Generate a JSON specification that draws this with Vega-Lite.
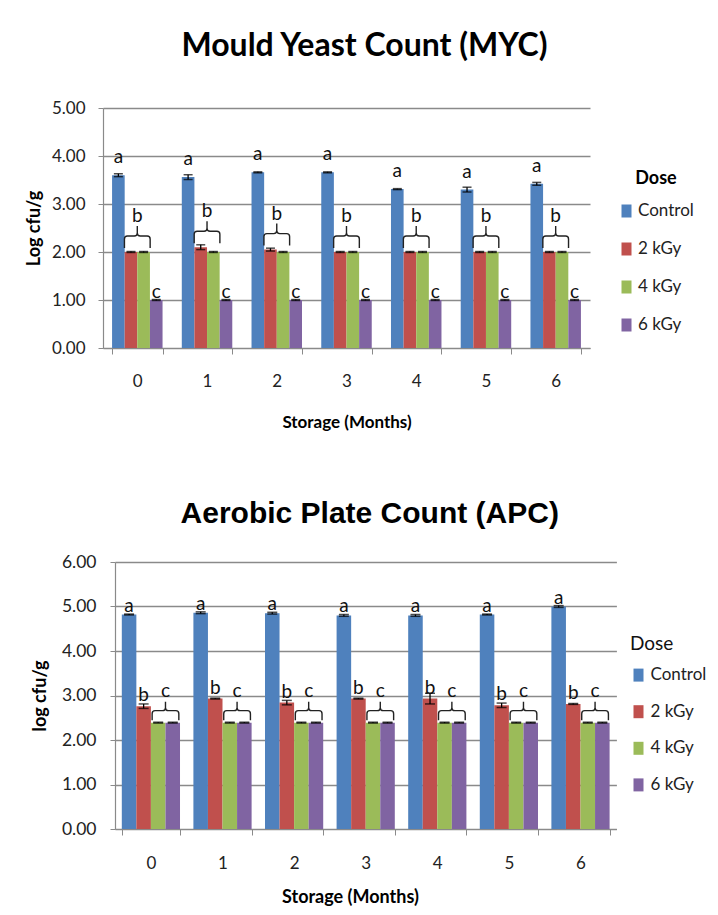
{
  "$schema": "https://vega.github.io/schema/vega-lite/v6.json",
  "padding": {"left": 25, "top": 30, "right": 0, "bottom": 0},
  "spacing": 69,
  "datasets": {
    "myc": [
      {"month": 0, "dose": "Control", "value": 3.60, "err": 0.03, "letter": "a"},
      {"month": 0, "dose": "2 kGy", "value": 2.00, "err": 0.01, "letter": "b"},
      {"month": 0, "dose": "4 kGy", "value": 2.00, "err": 0.01, "letter": ""},
      {"month": 0, "dose": "6 kGy", "value": 1.00, "err": 0.01, "letter": "c"},
      {"month": 1, "dose": "Control", "value": 3.56, "err": 0.05, "letter": "a"},
      {"month": 1, "dose": "2 kGy", "value": 2.10, "err": 0.05, "letter": "b"},
      {"month": 1, "dose": "4 kGy", "value": 2.00, "err": 0.01, "letter": ""},
      {"month": 1, "dose": "6 kGy", "value": 1.00, "err": 0.01, "letter": "c"},
      {"month": 2, "dose": "Control", "value": 3.66, "err": 0.01, "letter": "a"},
      {"month": 2, "dose": "2 kGy", "value": 2.05, "err": 0.03, "letter": "b"},
      {"month": 2, "dose": "4 kGy", "value": 2.00, "err": 0.01, "letter": ""},
      {"month": 2, "dose": "6 kGy", "value": 1.00, "err": 0.01, "letter": "c"},
      {"month": 3, "dose": "Control", "value": 3.66, "err": 0.01, "letter": "a"},
      {"month": 3, "dose": "2 kGy", "value": 2.00, "err": 0.01, "letter": "b"},
      {"month": 3, "dose": "4 kGy", "value": 2.00, "err": 0.01, "letter": ""},
      {"month": 3, "dose": "6 kGy", "value": 1.00, "err": 0.01, "letter": "c"},
      {"month": 4, "dose": "Control", "value": 3.31, "err": 0.01, "letter": "a"},
      {"month": 4, "dose": "2 kGy", "value": 2.00, "err": 0.01, "letter": "b"},
      {"month": 4, "dose": "4 kGy", "value": 2.00, "err": 0.01, "letter": ""},
      {"month": 4, "dose": "6 kGy", "value": 1.00, "err": 0.01, "letter": "c"},
      {"month": 5, "dose": "Control", "value": 3.30, "err": 0.05, "letter": "a"},
      {"month": 5, "dose": "2 kGy", "value": 2.00, "err": 0.01, "letter": "b"},
      {"month": 5, "dose": "4 kGy", "value": 2.00, "err": 0.01, "letter": ""},
      {"month": 5, "dose": "6 kGy", "value": 1.00, "err": 0.01, "letter": "c"},
      {"month": 6, "dose": "Control", "value": 3.42, "err": 0.03, "letter": "a"},
      {"month": 6, "dose": "2 kGy", "value": 2.00, "err": 0.01, "letter": "b"},
      {"month": 6, "dose": "4 kGy", "value": 2.00, "err": 0.01, "letter": ""},
      {"month": 6, "dose": "6 kGy", "value": 1.00, "err": 0.01, "letter": "c"}
    ],
    "apc": [
      {"month": 0, "dose": "Control", "value": 4.82, "err": 0.01, "letter": "a"},
      {"month": 0, "dose": "2 kGy", "value": 2.76, "err": 0.05, "letter": "b"},
      {"month": 0, "dose": "4 kGy", "value": 2.39, "err": 0.01, "letter": "c"},
      {"month": 0, "dose": "6 kGy", "value": 2.39, "err": 0.01, "letter": ""},
      {"month": 1, "dose": "Control", "value": 4.86, "err": 0.02, "letter": "a"},
      {"month": 1, "dose": "2 kGy", "value": 2.93, "err": 0.01, "letter": "b"},
      {"month": 1, "dose": "4 kGy", "value": 2.39, "err": 0.01, "letter": "c"},
      {"month": 1, "dose": "6 kGy", "value": 2.39, "err": 0.01, "letter": ""},
      {"month": 2, "dose": "Control", "value": 4.85, "err": 0.02, "letter": "a"},
      {"month": 2, "dose": "2 kGy", "value": 2.84, "err": 0.05, "letter": "b"},
      {"month": 2, "dose": "4 kGy", "value": 2.39, "err": 0.01, "letter": "c"},
      {"month": 2, "dose": "6 kGy", "value": 2.39, "err": 0.01, "letter": ""},
      {"month": 3, "dose": "Control", "value": 4.80, "err": 0.02, "letter": "a"},
      {"month": 3, "dose": "2 kGy", "value": 2.93, "err": 0.01, "letter": "b"},
      {"month": 3, "dose": "4 kGy", "value": 2.39, "err": 0.01, "letter": "c"},
      {"month": 3, "dose": "6 kGy", "value": 2.39, "err": 0.01, "letter": ""},
      {"month": 4, "dose": "Control", "value": 4.80, "err": 0.02, "letter": "a"},
      {"month": 4, "dose": "2 kGy", "value": 2.93, "err": 0.12, "letter": "b"},
      {"month": 4, "dose": "4 kGy", "value": 2.39, "err": 0.01, "letter": "c"},
      {"month": 4, "dose": "6 kGy", "value": 2.39, "err": 0.01, "letter": ""},
      {"month": 5, "dose": "Control", "value": 4.82, "err": 0.01, "letter": "a"},
      {"month": 5, "dose": "2 kGy", "value": 2.78, "err": 0.05, "letter": "b"},
      {"month": 5, "dose": "4 kGy", "value": 2.39, "err": 0.01, "letter": "c"},
      {"month": 5, "dose": "6 kGy", "value": 2.39, "err": 0.01, "letter": ""},
      {"month": 6, "dose": "Control", "value": 5.00, "err": 0.02, "letter": "a"},
      {"month": 6, "dose": "2 kGy", "value": 2.81, "err": 0.01, "letter": "b"},
      {"month": 6, "dose": "4 kGy", "value": 2.39, "err": 0.01, "letter": "c"},
      {"month": 6, "dose": "6 kGy", "value": 2.39, "err": 0.01, "letter": ""}
    ]
  },
  "vconcat": [
    {
      "title": {"text": "Mould Yeast Count (MYC)", "font": "Lato", "fontSize": 32, "fontWeight": "bold", "color": "#000", "baseline": "alphabetic", "offset": 11, "frame": "group", "anchor": "middle", "dx": 18},
      "width": 487,
      "height": 240,
      "data": {"name": "myc"},
      "encoding": {
        "x": {"field": "month", "type": "ordinal", "title": "Storage (Months)",
              "scale": {"paddingInner": 0.276, "paddingOuter": 0.13},
              "axis": {"labelAngle": 0, "labelFontSize": 17, "labelPadding": 19, "tickBand": "extent", "tickSize": 6, "titleFontSize": 17, "titlePadding": 25}},
        "xOffset": {"field": "dose", "type": "nominal", "scale": {"domain": ["Control", "2 kGy", "4 kGy", "6 kGy"], "paddingInner": 0, "paddingOuter": 0}},
        "y": {"field": "value", "type": "quantitative", "title": "Log cfu/g",
              "scale": {"domain": [0, 5], "nice": false},
              "axis": {"values": [0, 1, 2, 3, 4, 5], "format": ".2f", "labelFontSize": 17, "labelPadding": 13, "tickSize": 5, "titleFontSize": 18, "titlePadding": 8}}
      },
      "layer": [
        {
          "mark": {"type": "bar"},
          "encoding": {
            "color": {"field": "dose", "type": "nominal",
                      "scale": {"domain": ["Control", "2 kGy", "4 kGy", "6 kGy"], "range": ["#4F81BD", "#C0504D", "#9BBB59", "#8064A2"]},
                      "legend": {"orient": "none", "legendX": 515, "legendY": 61.5, "title": "Dose", "titleFont": "Lato", "titleFontSize": 18, "titleFontWeight": "bold", "titleColor": "#000", "titleAnchor": "middle", "titlePadding": 15, "labelFont": "Lato", "labelFontSize": 17, "labelColor": "#222", "labelOffset": 3, "rowPadding": 20, "symbolType": "M-0.77,-1H0.77V1H-0.77Z", "symbolSize": 169, "symbolStrokeWidth": 0, "padding": 0}}
          }
        },
        {
          "mark": {"type": "errorbar", "color": "#000", "ticks": {"size": 9, "thickness": 1.5, "color": "#000"}, "rule": {"strokeWidth": 1.3}},
          "encoding": {"yError": {"field": "err"}}
        },
        {
          "transform": [{"filter": "datum.letter == 'a'"}],
          "mark": {"type": "text", "font": "Lato", "fontSize": 19, "color": "#111", "baseline": "alphabetic", "dy": -12},
          "encoding": {"text": {"field": "letter"}}
        },
        {
          "transform": [{"filter": "datum.letter == 'b'"}],
          "mark": {"type": "text", "font": "Lato", "fontSize": 19, "color": "#111", "baseline": "alphabetic", "dx": 6.3, "dy": -30},
          "encoding": {"text": {"field": "letter"}}
        },
        {
          "transform": [{"filter": "datum.letter == 'c'"}],
          "mark": {"type": "text", "font": "Lato", "fontSize": 19, "color": "#111", "baseline": "alphabetic", "dy": -2},
          "encoding": {"text": {"field": "letter"}}
        },
        {
          "transform": [{"filter": "datum.letter == 'b'"}],
          "mark": {"type": "point", "filled": false, "opacity": 1, "stroke": "#222", "strokeWidth": 1.4, "size": 400,
                   "shape": "M-0.655,-0.4 L-0.655,-1.3 Q-0.655,-1.6 -0.355,-1.6 L0.33,-1.6 Q0.63,-1.6 0.63,-1.9 L0.63,-2.6 M0.63,-1.9 Q0.63,-1.6 0.93,-1.6 L1.615,-1.6 Q1.915,-1.6 1.915,-1.3 L1.915,-0.4"},
          "encoding": {}
        }
      ]
    },
    {
      "title": {"text": "Aerobic Plate Count (APC)", "font": "Liberation Sans", "fontSize": 30, "fontWeight": "bold", "color": "#000", "baseline": "alphabetic", "offset": 0, "frame": "group", "anchor": "middle", "dx": 10},
      "width": 513.4,
      "height": 267,
      "data": {"name": "apc"},
      "encoding": {
        "x": {"field": "month", "type": "ordinal", "title": "Storage (Months)",
              "scale": {"range": [12, 513.4], "paddingInner": 0.187, "paddingOuter": 0.095},
              "axis": {"labelAngle": 0, "labelFontSize": 17, "labelPadding": 20, "tickBand": "extent", "tickSize": 6, "titleFontSize": 18, "titlePadding": 17, "titleX": 247}},
        "xOffset": {"field": "dose", "type": "nominal", "scale": {"domain": ["Control", "2 kGy", "4 kGy", "6 kGy"], "paddingInner": 0, "paddingOuter": 0}},
        "y": {"field": "value", "type": "quantitative", "title": "log cfu/g",
              "scale": {"domain": [0, 6], "nice": false},
              "axis": {"values": [0, 1, 2, 3, 4, 5, 6], "format": ".2f", "labelFontSize": 17.5, "labelPadding": 14, "tickSize": 5, "titleFontSize": 18, "titlePadding": 11.5, "offset": -12}}
      },
      "layer": [
        {
          "mark": {"type": "bar"},
          "encoding": {
            "color": {"field": "dose", "type": "nominal",
                      "scale": {"domain": ["Control", "2 kGy", "4 kGy", "6 kGy"], "range": ["#4F81BD", "#C0504D", "#9BBB59", "#8064A2"]},
                      "legend": {"orient": "none", "legendX": 527, "legendY": 72.6, "title": "Dose", "titleFont": "Lato", "titleFontSize": 19, "titleFontWeight": "normal", "titleColor": "#111", "titleAnchor": "start", "titlePadding": 13, "labelFont": "Lato", "labelFontSize": 17, "labelColor": "#222", "labelOffset": 3.5, "rowPadding": 18.6, "symbolType": "M-0.77,-1H0.77V1H-0.77Z", "symbolSize": 169, "symbolStrokeWidth": 0, "padding": 0}}
          }
        },
        {
          "mark": {"type": "errorbar", "color": "#000", "ticks": {"size": 10, "thickness": 1.5, "color": "#000"}, "rule": {"strokeWidth": 1.3}},
          "encoding": {"yError": {"field": "err"}}
        },
        {
          "transform": [{"filter": "datum.letter == 'a'"}],
          "mark": {"type": "text", "font": "Lato", "fontSize": 19, "color": "#111", "baseline": "alphabetic", "dy": -3},
          "encoding": {"text": {"field": "letter"}}
        },
        {
          "transform": [{"filter": "datum.letter == 'b'"}],
          "mark": {"type": "text", "font": "Lato", "fontSize": 19, "color": "#111", "baseline": "alphabetic", "dy": -5},
          "encoding": {"text": {"field": "letter"}}
        },
        {
          "transform": [{"filter": "datum.letter == 'c'"}],
          "mark": {"type": "text", "font": "Lato", "fontSize": 19, "color": "#111", "baseline": "alphabetic", "dx": 7.3, "dy": -26},
          "encoding": {"text": {"field": "letter"}}
        },
        {
          "transform": [{"filter": "datum.letter == 'c'"}],
          "mark": {"type": "point", "filled": false, "opacity": 1, "stroke": "#222", "strokeWidth": 1.4, "size": 400,
                   "shape": "M-0.605,-0.25 L-0.605,-0.9 Q-0.605,-1.2 -0.305,-1.2 L0.43,-1.2 Q0.73,-1.2 0.73,-1.5 L0.73,-2.1 M0.73,-1.5 Q0.73,-1.2 1.03,-1.2 L1.765,-1.2 Q2.065,-1.2 2.065,-0.9 L2.065,-0.25"},
          "encoding": {}
        }
      ]
    }
  ],
  "resolve": {"scale": {"color": "independent", "x": "independent", "y": "independent", "xOffset": "independent"}, "legend": {"color": "independent"}},
  "config": {
    "font": "Lato",
    "view": {"stroke": null},
    "axis": {"labelColor": "#222", "titleColor": "#000", "titleFontWeight": "bold", "domainColor": "#8a8a8a", "tickColor": "#8a8a8a", "gridColor": "#8a8a8a", "gridWidth": 1.5, "domainWidth": 1.2, "labelFont": "Lato", "titleFont": "Lato"},
    "axisX": {"grid": false},
    "axisY": {"grid": true, "domain": true}
  }
}
